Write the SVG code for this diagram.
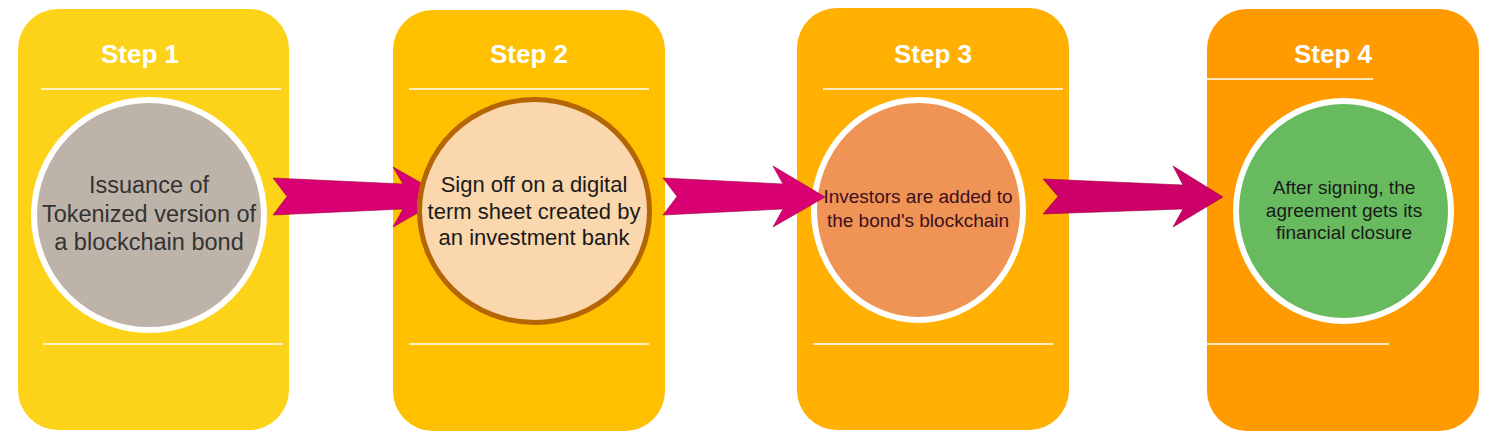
<svg xmlns="http://www.w3.org/2000/svg" width="1487" height="439" viewBox="0 0 1487 439">
<style>
.card{stroke:none}
.sep{stroke:#FFFFFF;stroke-width:1.5;fill:none}
.title{font-family:"Liberation Sans",Arial,sans-serif;font-weight:bold;font-size:26px;fill:#FFFFFF;text-anchor:middle}
.lbl{font-family:"Liberation Sans",Arial,sans-serif;text-anchor:middle}
.arrow{stroke:#A0003F;stroke-width:0.6;stroke-linejoin:miter}
</style>
<defs>
<clipPath id="clipC2">
<path clip-rule="evenodd" d="M0 0H1487V439H0Z M417 211a117.5 114 0 1 0 235 0a117.5 114 0 1 0 -235 0Z"/>
</clipPath>
</defs>
<rect width="1487" height="439" fill="#FFFFFF"/>
<g id="step1">
<rect class="card" x="18" y="9" width="271" height="421" rx="40" ry="40" fill="#FDD31A"/>
<text class="title" x="140" y="63">Step 1</text>
<line class="sep" x1="41" y1="89" x2="281" y2="89"/>
<line class="sep" x1="43" y1="344" x2="283" y2="344"/>
</g>
<g id="step2">
<rect class="card" x="393" y="10" width="272" height="421" rx="40" ry="40" fill="#FFC000"/>
<text class="title" x="529" y="63">Step 2</text>
<line class="sep" x1="409" y1="89" x2="649" y2="89"/>
<line class="sep" x1="409" y1="344" x2="649" y2="344"/>
</g>
<g id="step3">
<rect class="card" x="797" y="8" width="272" height="422" rx="40" ry="40" fill="#FFB000"/>
<text class="title" x="933" y="63">Step 3</text>
<line class="sep" x1="823" y1="89" x2="1063" y2="89"/>
<line class="sep" x1="813" y1="344" x2="1053" y2="344"/>
</g>
<g id="step4">
<rect class="card" x="1207" y="9" width="272" height="422" rx="40" ry="40" fill="#FF9A00"/>
<text class="title" x="1333" y="63">Step 4</text>
<line class="sep" x1="1207" y1="79" x2="1373" y2="79"/>
<line class="sep" x1="1207" y1="344" x2="1389" y2="344"/>
</g>
<g id="circle1">
<circle cx="149" cy="215" r="115" fill="#BEB3A9" stroke="#FFFFFF" stroke-width="6"/>
<text class="lbl" font-size="23.5" fill="#333333"><tspan x="149" y="193">Issuance of</tspan><tspan x="149" y="221.5">Tokenized version of</tspan><tspan x="149" y="250">a blockchain bond</tspan></text>
</g>
<g id="circle2">
<ellipse cx="534.5" cy="211" rx="115" ry="111.5" fill="#FAD7AC" stroke="#B46504" stroke-width="5"/>
<text class="lbl" font-size="22" fill="#1A1A1A"><tspan x="534" y="192">Sign off on a digital</tspan><tspan x="534" y="218.5">term sheet created by</tspan><tspan x="534" y="245">an investment bank</tspan></text>
</g>
<g id="circle3">
<ellipse cx="918.5" cy="210" rx="104.5" ry="110" fill="#EF9454" stroke="#FFFFFF" stroke-width="6"/>
<text class="lbl" font-size="19" fill="#3D0F1F"><tspan x="918" y="203">Investors are added to</tspan><tspan x="918" y="226.5">the bond's blockchain</tspan></text>
</g>
<g id="circle4">
<ellipse cx="1343.5" cy="211" rx="107.5" ry="110" fill="#67BA5E" stroke="#FFFFFF" stroke-width="6"/>
<text class="lbl" font-size="19" fill="#1A1A1A"><tspan x="1344" y="194">After signing, the</tspan><tspan x="1344" y="216.5">agreement gets its</tspan><tspan x="1344" y="239">financial closure</tspan></text>
</g>
<g id="connectors">
<polygon class="arrow" clip-path="url(#clipC2)" fill="#D80073" points="273,178 403,184 393,167 446,197 393,227 403,209 273,215 287,196.5"/>
<polygon class="arrow" fill="#D80073" points="663,178 783,184 773,166 825,197 773,227 783,209 663,215 677,196.5"/>
<polygon class="arrow" fill="#CC0066" points="1043,179 1183,185 1173,166 1223,197 1173,227 1183,209 1043,214 1058,196.5"/>
</g>
</svg>
